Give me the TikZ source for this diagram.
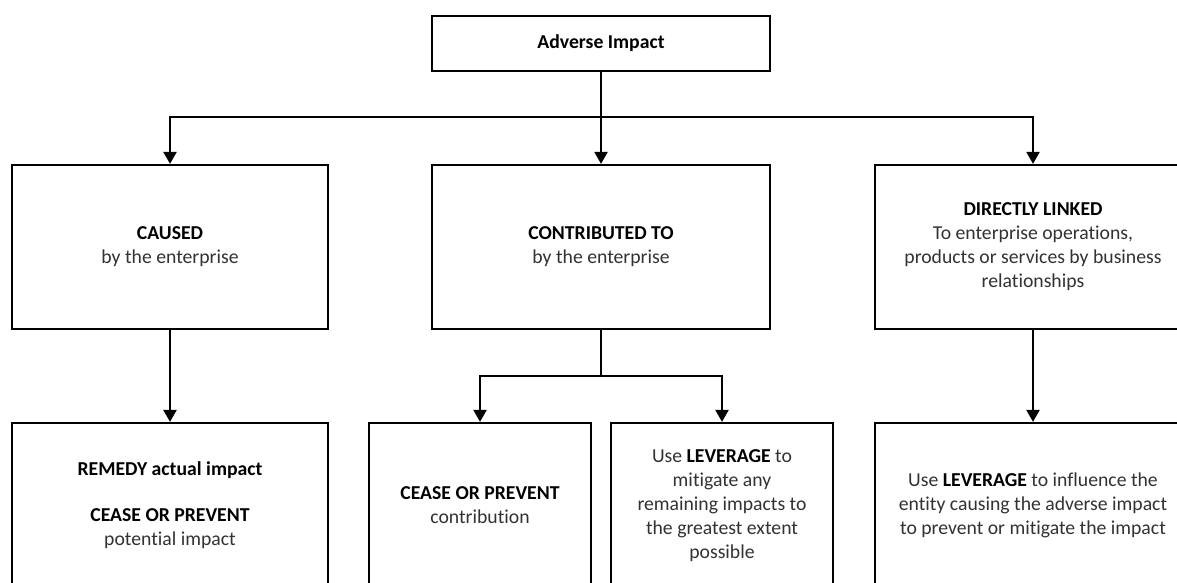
\documentclass[tikz,border=0pt]{standalone}
\usepackage{fontspec}
\setmainfont{Carlito}[Ligatures={NoCommon}]
\usetikzlibrary{arrows.meta}
\definecolor{txtgray}{RGB}{50,50,50}
\tikzset{
  box/.style={draw=black, line width=2.2pt, fill=white, align=center, inner sep=0pt,
    font=\fontsize{19.7}{24}\selectfont, text=txtgray},
  link/.style={line width=2.2pt, draw=black, -{Triangle[width=13pt,length=12pt]}},
  plain/.style={line width=2.2pt, draw=black}
}
\newcommand{\bk}[1]{\textcolor{black}{\textbf{#1}}}
\begin{document}
\begin{tikzpicture}[x=1pt,y=-1pt]
\clip (0,0) rectangle (1177,583);
\fill[white] (0,0) rectangle (1177,583);

\node[box, minimum width=338pt, minimum height=55pt] (top) at (601,43.5) {\bk{Adverse Impact}};

\node[box, minimum width=316pt, minimum height=164pt] (caused) at (170,247)
  {\bk{CAUSED}\\by the enterprise};
\node[box, minimum width=338pt, minimum height=164pt] (contrib) at (601,247)
  {\bk{CONTRIBUTED TO}\\by the enterprise};
\node[box, minimum width=316pt, minimum height=164pt] (linked) at (1033,247)
  {\bk{DIRECTLY LINKED}\\To enterprise operations,\\products or services by business\\relationships};

\node[box, minimum width=316pt, minimum height=165pt] (remedy) at (170,505.5)
  {\bk{REMEDY actual impact}\\[22pt]\bk{CEASE OR PREVENT}\\potential impact};
\node[box, minimum width=222pt, minimum height=165pt] (cease) at (480,505.5)
  {\bk{CEASE OR PREVENT}\\contribution};
\node[box, minimum width=222pt, minimum height=165pt] (lev1) at (722,505.5)
  {Use \bk{LEVERAGE} to\\mitigate any\\remaining impacts to\\the greatest extent\\possible};
\node[box, minimum width=316pt, minimum height=165pt] (lev2) at (1033,505.5)
  {Use \bk{LEVERAGE} to influence the\\entity causing the adverse impact\\to prevent or mitigate the impact};

\coordinate (hub) at (top.south |- 0,117);
\coordinate (hub2) at (contrib.south |- 0,376);

\draw[link] (top.south) -- (contrib.north);
\draw[link] (hub) -| (caused.north);
\draw[link] (hub) -| (linked.north);

\draw[link] (caused.south) -- (remedy.north);
\draw[link] (linked.south) -- (lev2.north);

\draw[plain] (contrib.south) -- (hub2);
\draw[link] (hub2) -| (cease.north);
\draw[link] (hub2) -| (lev1.north);
\end{tikzpicture}
\end{document}
